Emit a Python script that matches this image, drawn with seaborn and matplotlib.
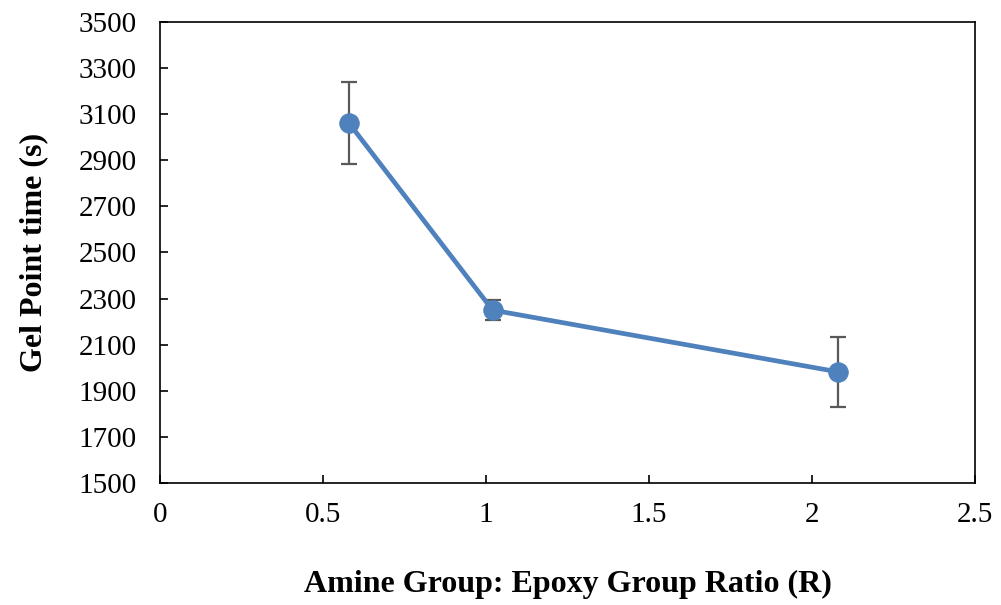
import matplotlib
matplotlib.use("Agg")
import matplotlib.pyplot as plt
import seaborn as sns
import pandas as pd

# Data
ratio_r = [0.58, 1.02, 2.08]
gel_time = [3060, 2250, 1982]
gel_err = [178, 43, 151]
y_ticks = [1500, 1700, 1900, 2100, 2300, 2500, 2700, 2900, 3100, 3300, 3500]
x_ticks = [0, 0.5, 1, 1.5, 2, 2.5]
x_tick_labels = ["0", "0.5", "1", "1.5", "2", "2.5"]

sns.set_theme(style="white")
plt.rcParams["font.family"] = ["Liberation Serif", "DejaVu Serif"]

df = pd.DataFrame({"R": ratio_r, "t": gel_time, "err": gel_err})

fig = plt.figure(figsize=(10.01, 6.05), dpi=100)
ax = fig.add_axes([0.160, 0.2017, 0.814, 0.7619])

line_color = "#4F81BD"
ax.errorbar(df["R"], df["t"], yerr=df["err"], fmt="none", ecolor="#595959",
            elinewidth=1.6, capsize=6, capthick=1.6, zorder=2)
sns.lineplot(data=df, x="R", y="t", ax=ax, color=line_color, linewidth=3.4,
             marker="o", markersize=14, markeredgecolor=line_color,
             markerfacecolor=line_color, zorder=3)

ax.set_xlim(0, 2.5)
ax.set_ylim(1500, 3500)
ax.set_xticks(x_ticks)
ax.set_xticklabels(x_tick_labels)
ax.set_yticks(y_ticks)
ax.set_yticklabels([str(v) for v in y_ticks])

ax.tick_params(axis="both", direction="in", length=6, width=1.2, color="black",
               labelsize=21, labelcolor="black")
ax.tick_params(axis="x", pad=14, bottom=True)
ax.tick_params(axis="y", pad=17, left=True)

for s in ax.spines.values():
    s.set_visible(True)
    s.set_color("black")
    s.set_linewidth(1.2)

ax.set_xlabel("Amine Group: Epoxy Group Ratio (R)", fontsize=23, fontweight="bold",
              labelpad=30, color="black")
ax.set_ylabel("Gel Point time (s)", fontsize=23, fontweight="bold",
              labelpad=22, color="black")
ax.grid(False)

fig.savefig("out.png", dpi=100, facecolor="white")
